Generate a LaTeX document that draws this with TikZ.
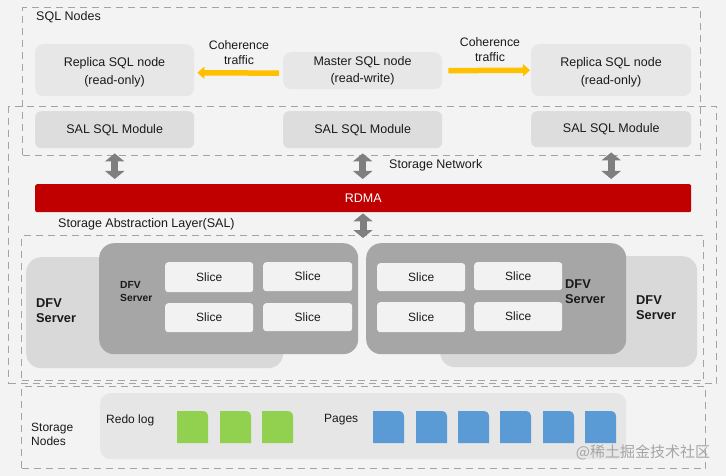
\documentclass[tikz,border=0pt]{standalone}
\usepackage{fontspec}
\setmainfont{Liberation Sans}
\newfontfamily\cjk{Noto Sans CJK SC}
\usetikzlibrary{arrows.meta}
\definecolor{bgc}{HTML}{F3F3F3}
\definecolor{nodec}{HTML}{E7E7E7}
\definecolor{salc}{HTML}{DDDDDD}
\definecolor{backc}{HTML}{D9D9D9}
\definecolor{frontc}{HTML}{A6A6A6}
\definecolor{slicec}{HTML}{F2F2F2}
\definecolor{innerc}{HTML}{E6E6E6}
\definecolor{dashc}{HTML}{A3A3A3}
\definecolor{arrc}{HTML}{7F7F7F}
\definecolor{rdmac}{HTML}{C00000}
\definecolor{yelc}{HTML}{FFC000}
\definecolor{greenc}{HTML}{92D050}
\definecolor{bluec}{HTML}{5B9BD5}
\definecolor{txtc}{HTML}{1A1A1A}
\begin{document}
\begin{tikzpicture}[x=1pt,y=-1pt,
  font=\fontsize{12.5}{17}\selectfont, text=txtc,
  wh/.style 2 args={minimum width=#1pt, minimum height=#2pt},
  boxbase/.style={anchor=north west, inner sep=0pt, align=center, draw=none},
  sqlnode/.style={boxbase, fill=nodec, rounded corners=8pt},
  salmod/.style={boxbase, fill=salc, rounded corners=6pt},
  dashbox/.style={boxbase, draw=dashc, line width=1.2pt, dash pattern=on 7pt off 5pt},
  backsrv/.style={boxbase, fill=backc, rounded corners=15pt},
  frontsrv/.style={boxbase, fill=frontc, rounded corners=15pt},
  slicebox/.style={boxbase, fill=slicec, rounded corners=3pt, font=\fontsize{12}{14}\selectfont},
  lbl/.style={anchor=west, inner sep=0pt, align=left},
  ctext/.style={inner sep=0pt, align=center, font=\fontsize{12.5}{18}\selectfont},
  dfv/.style={lbl, font=\bfseries\fontsize{12.8}{15}\selectfont},
  dfvs/.style={lbl, font=\bfseries\fontsize{10.3}{13}\selectfont},
  yarrow/.style={draw=yelc, line width=5.5pt, -{Triangle[length=7pt,width=12pt]}},
  garrow/.style={draw=arrc, line width=7pt, {Triangle[length=8pt,width=19pt]}-{Triangle[length=8pt,width=19pt]}},
  docg/.style={fill=greenc},
  docb/.style={fill=bluec}]
\useasboundingbox (0,0) rectangle (726,476);
\fill[bgc] (0,0) rectangle (726,476);

% dashed group boxes
\node[dashbox, wh={678}{148}] (sqlbox) at (22,7) {};
\node[dashbox, wh={708}{277}] (netbox) at (8,106) {};
\node[dashbox, wh={682}{145}] (salbox) at (21,235) {};
\node[dashbox, wh={684}{82}] (stbox) at (21,386) {};

% SQL nodes
\node[lbl] (sqlt) at (36,17.5) {SQL Nodes};
\node[sqlnode, wh={159}{52}] (rep1) at (35,44) {};
\node[sqlnode, wh={159}{37}] (master) at (283,52) {};
\node[sqlnode, wh={160}{52}] (rep2) at (531,44) {};
\node[ctext] (rep1t) at (114.5,72.5) {Replica SQL node\\(read-only)};
\node[ctext, font=\fontsize{12.5}{16.5}\selectfont] (mastert) at (362.5,71) {Master SQL node\\(read-write)};
\node[ctext] (rep2t) at (611,72.5) {Replica SQL node\\(read-only)};
\node[align=center, inner sep=0pt, font=\fontsize{12.3}{15}\selectfont] (coh1) at (239,53) {Coherence\\traffic};
\node[align=center, inner sep=0pt, font=\fontsize{12.3}{15}\selectfont] (coh2) at (490,50) {Coherence\\traffic};
\draw[yarrow, shorten <=4pt, shorten >=3pt] ([yshift=-2.5pt]master.west) -- ([yshift=-2.5pt]rep1.east);
\draw[yarrow, shorten <=6pt, shorten >=1pt] (master.east) -- (rep2.west);

% SAL SQL modules
\node[salmod, wh={159}{37}] (sal1) at (35,111) {SAL SQL Module};
\node[salmod, wh={159}{37}] (sal2) at (283,111) {SAL SQL Module};
\node[salmod, wh={160}{36}] (sal3) at (531,111) {SAL SQL Module};

% RDMA
\node[boxbase, fill=rdmac, rounded corners=2pt, wh={656}{28}, text=white] (rdma) at (35,184) {RDMA};
\node[lbl] (snet) at (389,165) {Storage Network};
\node[lbl] (salt) at (58,224) {Storage Abstraction Layer(SAL)};
\coordinate (salin) at (363,238);

\draw[garrow, shorten <=5pt, shorten >=5pt] (sal1.south) -- (sal1.south |- rdma.north);
\draw[garrow, shorten <=5pt, shorten >=5pt] (sal2.south) -- (sal2.south |- rdma.north);
\draw[garrow, shorten <=5pt, shorten >=5pt] (sal3.south) -- (sal3.south |- rdma.north);
\draw[garrow, shorten <=1pt] (rdma.south -| salin) -- (salin);

% DFV servers
\node[backsrv, wh={257}{111}] (lback) at (26,257) {};
\node[backsrv, wh={257}{111}] (rback) at (440,256) {};
\node[frontsrv, wh={259}{111}] (lfront) at (99,243) {};
\node[frontsrv, wh={260}{111}] (rfront) at (366,243) {};
\node[dfv] (lbackt) at (36,310.5) {DFV\\Server};
\node[dfv] (rbackt) at (636,307.5) {DFV\\Server};
\node[dfvs] (lfrontt) at (120,292) {DFV\\Server};
\node[dfv] (rfrontt) at (565,291.5) {DFV\\Server};

\node[slicebox, wh={88}{30}] (s1) at (165,262) {Slice};
\node[slicebox, wh={89}{29}] (s2) at (263,262) {Slice};
\node[slicebox, wh={88}{29}] (s3) at (165,303) {Slice};
\node[slicebox, wh={89}{28}] (s4) at (263,303) {Slice};
\node[slicebox, wh={88}{28}] (s5) at (377,263) {Slice};
\node[slicebox, wh={88}{28}] (s6) at (474,262) {Slice};
\node[slicebox, wh={88}{30}] (s7) at (377,302) {Slice};
\node[slicebox, wh={88}{29}] (s8) at (474,302) {Slice};

% Storage nodes
\node[boxbase, fill=innerc, rounded corners=10pt, wh={526}{66}] (inner) at (100,393) {};
\node[lbl, font=\fontsize{12}{14}\selectfont] (stt) at (31,434) {Storage\\Nodes};
\node[lbl, font=\fontsize{12}{14}\selectfont] (redo) at (106,420) {Redo log};
\node[lbl, font=\fontsize{12}{14}\selectfont] (pages) at (324,420) {Pages};

\foreach \x in {177,220,262}{
  \fill[docg] (\x,443) -- (\x,411) -- (\x+25,411) .. controls (\x+29,411) and (\x+31,413) .. (\x+31,417) -- (\x+31,443) -- cycle;
}
\foreach \x in {373,416,458,500,543,585}{
  \fill[docb] (\x,443) -- (\x,411) -- (\x+25,411) .. controls (\x+29,411) and (\x+31,413) .. (\x+31,417) -- (\x+31,443) -- cycle;
}

% watermark
\node[inner sep=0pt, text=black!35, font=\cjk\fontsize{15}{17}\selectfont] (wm) at (643,452) {@稀土掘金技术社区};
\end{tikzpicture}
\end{document}
